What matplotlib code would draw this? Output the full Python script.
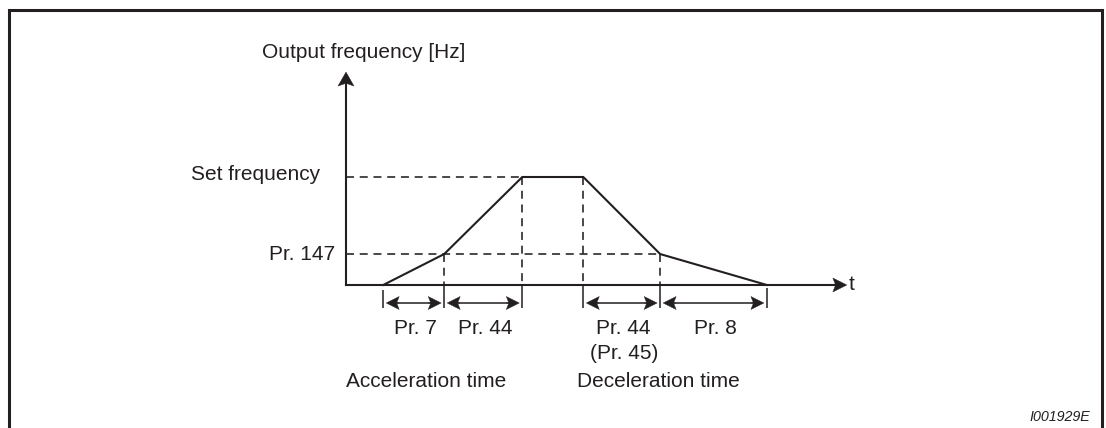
import matplotlib
matplotlib.use("Agg")
import matplotlib.pyplot as plt
from matplotlib.patches import FancyArrow

plt.rcParams["font.family"] = ["Liberation Sans", "DejaVu Sans"]

# Output frequency profile: time breakpoints [s] and frequency [Hz]
t_points = [0.61, 1.61, 2.89, 3.89, 5.15, 6.90]
f_points = [0.0, 17.2, 60.0, 60.0, 17.2, 0.0]
f_set = 60.0
f_pr147 = 17.2
t_axis_end = 8.21
f_axis_end = 118.3

# Time intervals (index pairs into t_points) and their parameter names
intervals = [(0, 1), (1, 2), (3, 4), (4, 5)]
interval_labels = ["Pr. 7", "Pr. 44", "Pr. 44", "Pr. 8"]
interval_sublabels = ["", "", "(Pr. 45)", ""]

W, H, DPI = 1106, 428, 100
X0, Y0 = 346, 285          # origin of the diagram in pixels
SX, SY = 61.0, 1.8         # pixels per second / per Hz
INK = "#231f20"
FS = 15

fig = plt.figure(figsize=(W / DPI, H / DPI), dpi=DPI)
ax = fig.add_axes([0, 0, 1, 1])
ax.axis("off")
ax.set_xlim(-X0 / SX, (W - X0) / SX)
ax.set_ylim(-(H - Y0) / SY, Y0 / SY)


def dx(px):
    return px / SX


def dy(px):
    return px / SY


def head(x, y, direction, length=13, width=12, overhang=0.2):
    """Stealth-style arrow head with its tip at (x, y); sizes in pixels."""
    if direction in ("right", "left"):
        s = 1 if direction == "right" else -1
        L, Wd = dx(length), dy(width)
        arr = FancyArrow(x - s * L, y, s * L, 0, width=0, head_width=Wd,
                         head_length=L, length_includes_head=True,
                         overhang=overhang, color=INK, lw=0.3)
    else:
        s = 1 if direction == "up" else -1
        L, Wd = dy(length), dx(width)
        arr = FancyArrow(x, y - s * L, 0, s * L, width=0, head_width=Wd,
                         head_length=L, length_includes_head=True,
                         overhang=overhang, color=INK, lw=0.3)
    ax.add_patch(arr)


# outer frame (open at the bottom)
ax.plot([9 / W, 9 / W, 1102 / W, 1102 / W], [0, 1 - 10 / H, 1 - 10 / H, 0],
        transform=ax.transAxes, color=INK, lw=2.2, solid_joinstyle="miter",
        clip_on=False)

# axes with arrow heads
ax.plot([0, 0], [0, f_axis_end - dy(6)], color=INK, lw=1.5,
        solid_capstyle="projecting")
ax.plot([0, t_axis_end - dx(6)], [0, 0], color=INK, lw=1.5,
        solid_capstyle="projecting")
head(0, f_axis_end, "up", length=14, width=16)
head(t_axis_end, 0, "right", length=14, width=14)

# dashed guide lines
dash = dict(color=INK, lw=1.15, linestyle=(0, (5, 3.6)))
ax.plot([0, t_points[2]], [f_set, f_set], **dash)
ax.plot([0, t_points[4]], [f_pr147, f_pr147], **dash)
for i in range(1, 5):
    ax.plot([t_points[i], t_points[i]], [f_points[i], 0], **dash)

# frequency profile
ax.plot(t_points, f_points, color=INK, lw=1.5, solid_joinstyle="miter")

# tick marks below the time axis
ax.vlines(t_points[1:5], -dy(23), 0, color=INK, lw=1.1)
ax.vlines([t_points[0]], -dy(23), -dy(5), color=INK, lw=1.1)
ax.vlines([t_points[5]], -dy(23), -dy(3), color=INK, lw=1.1)

# interval arrows and labels
y_arr = -dy(18)
gap = dx(3)
for (a, b), lab, sub in zip(intervals, interval_labels, interval_sublabels):
    left, right = t_points[a] + gap, t_points[b] - gap
    ax.plot([left + dx(6), right - dx(6)], [y_arr, y_arr], color=INK, lw=1.1)
    head(left, y_arr, "left", length=13, width=13)
    head(right, y_arr, "right", length=13, width=13)
    mid = (t_points[a] + t_points[b]) / 2
    ax.annotate(lab, (mid, 0), xytext=(2, -49), textcoords="offset pixels",
                ha="center", va="baseline", fontsize=FS, color=INK)
    if sub:
        ax.annotate(sub, (mid, 0), xytext=(2, -74), textcoords="offset pixels",
                    ha="center", va="baseline", fontsize=FS, color=INK)

ax.annotate("Acceleration time", (0, 0), xytext=(0, -102),
            textcoords="offset pixels", ha="left", va="baseline",
            fontsize=FS, color=INK)
ax.annotate("Deceleration time", (t_points[4], 0), xytext=(-2, -102),
            textcoords="offset pixels", ha="center", va="baseline",
            fontsize=FS, color=INK)

# axis captions
ax.annotate("Output frequency [Hz]", (0, f_axis_end), xytext=(-84, 14),
            textcoords="offset pixels", ha="left", va="baseline",
            fontsize=FS, color=INK)
ax.annotate("Set frequency", (0, f_set), xytext=(-26, -3),
            textcoords="offset pixels", ha="right", va="baseline",
            fontsize=FS, color=INK)
ax.annotate("Pr. 147", (0, f_pr147), xytext=(-11, -6),
            textcoords="offset pixels", ha="right", va="baseline",
            fontsize=FS, color=INK)
ax.annotate("t", (t_axis_end, 0), xytext=(2, -5),
            textcoords="offset pixels", ha="left", va="baseline",
            fontsize=FS, color=INK)

fig.text(1090 / W, (H - 421) / H, "I001929E", ha="right", va="baseline",
         fontsize=10.3, style="italic", color=INK)

fig.savefig("out.png", dpi=DPI)
